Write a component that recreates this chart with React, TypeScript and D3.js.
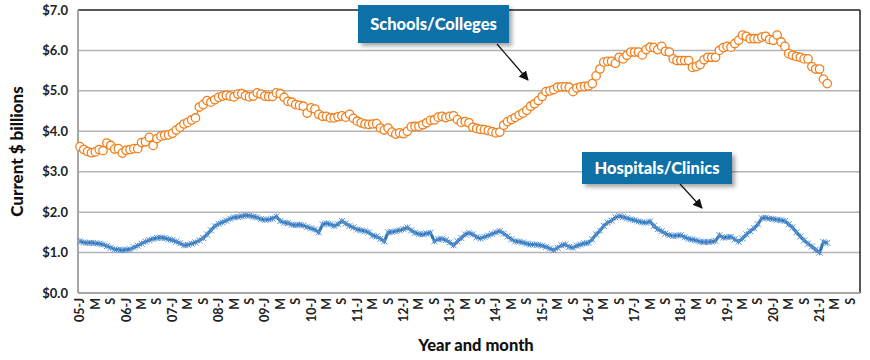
import React, {useRef, useEffect} from 'react';
import * as d3 from 'd3';

// months Jan 2005 .. Nov 2021 on the category axis, labels every 4 months
const years = ['05','06','07','08','09','10','11','12','13','14','15','16','17','18','19','20','21'];
const monthLetters = ['J','F','M','A','M','J','J','A','S','O','N','D'];

// Schools/Colleges, monthly, Jan 2005 - Mar 2021
const schools = [
  3.62,3.55,3.50,3.47,3.49,3.55,3.52,3.71,3.65,3.56,3.57,3.46,
  3.53,3.55,3.57,3.57,3.72,3.74,3.85,3.65,3.82,3.88,3.90,3.91,
  3.95,4.03,4.10,4.18,4.22,4.28,4.33,4.60,4.66,4.76,4.72,4.78,
  4.84,4.87,4.89,4.87,4.85,4.92,4.93,4.88,4.85,4.87,4.95,4.92,
  4.87,4.86,4.86,4.95,4.93,4.84,4.74,4.72,4.66,4.64,4.62,4.45,
  4.58,4.55,4.42,4.37,4.37,4.33,4.33,4.36,4.38,4.35,4.42,4.32,
  4.25,4.21,4.18,4.17,4.18,4.19,4.08,4.03,4.08,3.98,3.93,3.96,
  3.94,4.00,4.11,4.12,4.12,4.16,4.21,4.27,4.28,4.35,4.37,4.34,
  4.37,4.38,4.29,4.22,4.24,4.21,4.10,4.07,4.05,4.04,4.02,3.99,
  3.96,3.98,4.15,4.24,4.29,4.34,4.40,4.45,4.52,4.62,4.68,4.76,
  4.86,4.98,5.00,5.03,5.09,5.10,5.10,5.09,4.98,5.07,5.10,5.11,
  5.12,5.18,5.37,5.54,5.71,5.73,5.73,5.68,5.83,5.79,5.88,5.96,
  5.96,5.96,5.89,6.02,6.08,6.07,6.02,6.10,5.98,5.96,5.79,5.75,
  5.75,5.75,5.75,5.58,5.60,5.65,5.77,5.83,5.83,5.83,6.00,6.07,
  6.10,6.08,6.17,6.25,6.38,6.35,6.29,6.29,6.29,6.33,6.35,6.27,
  6.25,6.38,6.21,6.10,5.92,5.88,5.85,5.83,5.79,5.79,5.60,5.54,
  5.54,5.29,5.18
];

// Hospitals/Clinics, monthly, Jan 2005 - Mar 2021
const hospitals = [
  1.28,1.25,1.24,1.24,1.23,1.22,1.20,1.16,1.12,1.08,1.07,1.06,
  1.07,1.08,1.13,1.17,1.22,1.27,1.31,1.34,1.36,1.37,1.36,1.33,
  1.31,1.27,1.23,1.18,1.19,1.22,1.25,1.30,1.36,1.45,1.55,1.65,
  1.71,1.75,1.79,1.84,1.87,1.88,1.90,1.92,1.91,1.89,1.87,1.83,
  1.81,1.82,1.84,1.89,1.78,1.74,1.73,1.69,1.68,1.69,1.67,1.63,
  1.60,1.57,1.50,1.70,1.72,1.70,1.66,1.70,1.78,1.72,1.66,1.62,
  1.57,1.55,1.53,1.50,1.42,1.40,1.34,1.28,1.50,1.51,1.53,1.55,
  1.58,1.62,1.55,1.49,1.46,1.45,1.47,1.49,1.28,1.33,1.34,1.31,
  1.25,1.18,1.28,1.36,1.45,1.48,1.45,1.38,1.35,1.39,1.42,1.46,
  1.50,1.53,1.47,1.40,1.33,1.28,1.27,1.25,1.22,1.20,1.20,1.19,
  1.17,1.14,1.10,1.06,1.12,1.18,1.20,1.14,1.12,1.17,1.20,1.23,
  1.24,1.33,1.45,1.54,1.66,1.74,1.79,1.87,1.90,1.88,1.85,1.82,
  1.80,1.77,1.75,1.74,1.77,1.66,1.58,1.53,1.47,1.43,1.41,1.42,
  1.43,1.38,1.34,1.32,1.30,1.27,1.26,1.26,1.27,1.29,1.43,1.37,
  1.38,1.39,1.33,1.27,1.35,1.45,1.53,1.60,1.70,1.85,1.86,1.84,
  1.83,1.81,1.80,1.78,1.70,1.62,1.50,1.40,1.30,1.22,1.15,1.07,
  1.00,1.26,1.24
];

const yTicks = [0,1,2,3,4,5,6,7];

const FONT = "Lato, 'Open Sans', 'DejaVu Sans', sans-serif";

export default function App(){

    const svgRef = useRef(null);

    useEffect(()=>{
        const svg = d3.select(svgRef.current);
        svg.selectAll('*').remove();

        const margin = {top: 10, right: 10, bottom: 67, left: 78};
        const width = 870, height = 360;
        const x0 = margin.left, x1 = width - margin.right;
        const y0 = height - margin.bottom, y1 = margin.top;

        // category labels
        const cats = [];
        years.forEach(yy => {
            monthLetters.forEach((m, mi) => cats.push({key: yy + '-' + mi, label: mi === 0 ? yy + '-J' : m, mi}));
        });
        const categories = cats.slice(0, 12 * 16 + 11); // Jan 05 .. Nov 21

        const xScale = d3.scalePoint()
            .domain(categories.map(c => c.key))
            .range([x0, x1])
            .padding(0.5);
        const yScale = d3.scaleLinear().domain([0, 7]).range([y0, y1]);

        const xi = (i) => xScale(categories[i].key);

        svg.append('rect').attr('width', width).attr('height', height).attr('fill', '#fff');

        const defs = svg.append('defs');
        const f = defs.append('filter').attr('id', 'shadow').attr('x', '-10%').attr('y', '-20%').attr('width', '130%').attr('height', '160%');
        f.append('feDropShadow').attr('dx', 3).attr('dy', 3).attr('stdDeviation', 2).attr('flood-color', '#000').attr('flood-opacity', 0.35);
        defs.append('marker').attr('id', 'arrow').attr('viewBox', '0 0 10 10').attr('refX', 9).attr('refY', 5)
            .attr('markerWidth', 8).attr('markerHeight', 8).attr('orient', 'auto-start-reverse')
            .append('path').attr('d', 'M0,0 L10,5 L0,10 z').attr('fill', '#111');

        // gridlines
        svg.append('g').selectAll('line').data(yTicks.filter(d => d > 0 && d < 7)).join('line')
            .attr('x1', x0).attr('x2', x1)
            .attr('y1', d => yScale(d)).attr('y2', d => yScale(d))
            .attr('stroke', '#b4b4b4').attr('stroke-width', 1.5);

        // frame
        svg.append('line').attr('x1', x0).attr('x2', x1).attr('y1', y1).attr('y2', y1).attr('stroke', '#222').attr('stroke-width', 1.5);
        svg.append('line').attr('x1', x1).attr('x2', x1).attr('y1', y1).attr('y2', y0).attr('stroke', '#222').attr('stroke-width', 1.5);
        svg.append('line').attr('x1', x0).attr('x2', x1).attr('y1', y0).attr('y2', y0).attr('stroke', '#a6a6a6').attr('stroke-width', 2);
        svg.append('line').attr('x1', x0).attr('x2', x0).attr('y1', y1).attr('y2', y0).attr('stroke', '#a6a6a6').attr('stroke-width', 2);

        // y labels
        svg.append('g').selectAll('text').data(yTicks).join('text')
            .attr('x', x0 - 10).attr('y', d => yScale(d)).attr('dy', '0.35em')
            .attr('text-anchor', 'end').attr('font-family', FONT).attr('font-weight', 700)
            .attr('font-size', 13).attr('fill', '#222')
            .text(d => '$' + d.toFixed(1));

        // x labels every 4 months
        svg.append('g').selectAll('text').data(categories.filter((c, i) => i % 4 === 0)).join('text')
            .attr('transform', d => `translate(${xScale(d.key) + 4.5},${y0 + 5}) rotate(-90)`)
            .attr('text-anchor', 'end').attr('font-family', FONT).attr('font-weight', 700)
            .attr('font-size', 12.5).attr('fill', '#222')
            .text(d => d.label);

        // axis titles
        svg.append('text').attr('transform', `translate(23,${(y0 + y1) / 2}) rotate(-90)`)
            .attr('text-anchor', 'middle').attr('font-family', FONT).attr('font-weight', 900)
            .attr('font-size', 17).attr('fill', '#111').text('Current $ billions');
        svg.append('text').attr('x', 476).attr('y', 351)
            .attr('text-anchor', 'middle').attr('font-family', FONT).attr('font-weight', 900)
            .attr('font-size', 16.5).attr('fill', '#111').text('Year and month');

        // hospitals series
        const line = d3.line().x((d, i) => xi(i)).y(d => yScale(d));
        svg.append('path').datum(hospitals).attr('d', line)
            .attr('fill', 'none').attr('stroke', '#2f72b4').attr('stroke-width', 3);
        const xs = 3;
        svg.append('g').selectAll('path').data(hospitals).join('path')
            .attr('d', (d, i) => {
                const cx = xi(i), cy = yScale(d);
                return `M${cx - xs},${cy - xs}L${cx + xs},${cy + xs}M${cx - xs},${cy + xs}L${cx + xs},${cy - xs}M${cx},${cy - xs}L${cx},${cy + xs}`;
            })
            .attr('stroke', '#5592d2').attr('stroke-width', 1).attr('fill', 'none');

        // schools series
        svg.append('path').datum(schools).attr('d', line)
            .attr('fill', 'none').attr('stroke', '#f07f1c').attr('stroke-width', 1.2);
        svg.append('g').selectAll('circle').data(schools).join('circle')
            .attr('cx', (d, i) => xi(i)).attr('cy', d => yScale(d)).attr('r', 4.2)
            .attr('fill', '#fff').attr('stroke', '#f07f1c').attr('stroke-width', 1.3);

        // callouts
        const callout = (x, y, w, h, label, ax1, ay1, ax2, ay2) => {
            svg.append('line').attr('x1', ax1).attr('y1', ay1).attr('x2', ax2).attr('y2', ay2)
                .attr('stroke', '#111').attr('stroke-width', 1.2).attr('marker-end', 'url(#arrow)');
            svg.append('rect').attr('x', x).attr('y', y).attr('width', w).attr('height', h)
                .attr('fill', '#1170a6').attr('filter', 'url(#shadow)');
            svg.append('text').attr('x', x + w / 2).attr('y', y + h / 2).attr('dy', '0.36em')
                .attr('text-anchor', 'middle').attr('font-family', FONT).attr('font-weight', 900)
                .attr('font-size', 16.5).attr('fill', '#fff').text(label);
        };
        callout(358, 5, 151, 38, 'Schools/Colleges', 497, 44, 528, 80);
        callout(582, 152, 150, 32, 'Hospitals/Clinics', 680, 184, 702, 208);
    });

    return(
        <svg ref={svgRef} width={870} height={360}
            style={{position: 'absolute', left: 0, top: 0, display: 'block'}}>
        </svg>
    );
}
